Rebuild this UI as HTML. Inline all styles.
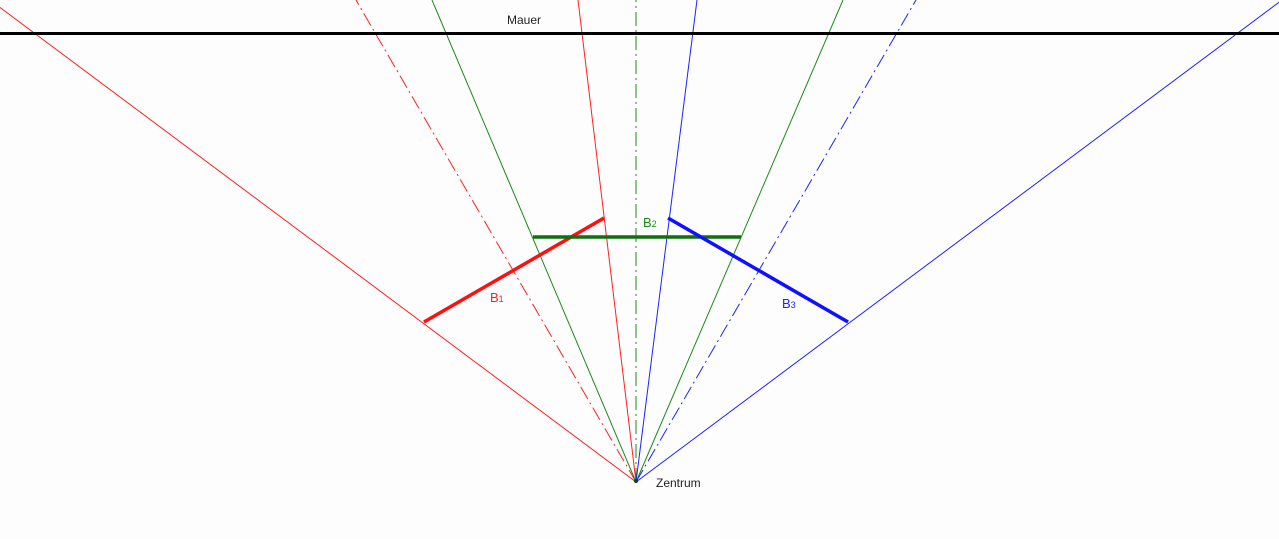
<!DOCTYPE html>
<html><head><meta charset="utf-8"><style>
html,body{margin:0;padding:0;background:#fdfdfd;}
svg{display:block;}
text{font-family:"Liberation Sans",sans-serif;}
</style></head><body>
<svg width="1279" height="539" viewBox="0 0 1279 539" xmlns="http://www.w3.org/2000/svg">
<rect width="1279" height="539" fill="#fdfdfd"/>
<g stroke-width="1" fill="none">
<line x1="636" y1="482" x2="-10" y2="0" stroke="#ff2020"/>
<line x1="636" y1="482" x2="356" y2="0" stroke="#ff2020" stroke-dasharray="14,4,2,4"/>
<line x1="636" y1="482" x2="432" y2="0" stroke="#1a8a1a"/>
<line x1="636" y1="482" x2="578" y2="0" stroke="#ff2020"/>
<line x1="636" y1="482" x2="636" y2="0" stroke="#1a8a1a" stroke-dasharray="14,4,2,4"/>
<line x1="636" y1="482" x2="697" y2="0" stroke="#2020ff"/>
<line x1="636" y1="482" x2="843" y2="0" stroke="#1a8a1a"/>
<line x1="636" y1="482" x2="916" y2="0" stroke="#2020ff" stroke-dasharray="14,4,2,4"/>
<line x1="636" y1="482" x2="1282" y2="0" stroke="#2020ff"/>
</g>
<line x1="0" y1="33.5" x2="1279" y2="33.5" stroke="#000" stroke-width="3"/>
<line x1="424" y1="322" x2="604" y2="218" stroke="#ff1010" stroke-width="3.5"/>
<line x1="533" y1="237" x2="741" y2="237" stroke="#107010" stroke-width="3.5"/>
<line x1="668" y1="218" x2="848" y2="322" stroke="#1010ff" stroke-width="3.5"/>
<circle cx="636" cy="481" r="2" fill="#104010"/>
<text x="507" y="24" font-size="12" fill="#222">Mauer</text>
<text x="643" y="227" font-size="13" fill="#1a8a1a">B<tspan font-size="9">2</tspan></text>
<text x="490" y="302" font-size="13" fill="#ff2020">B<tspan font-size="9">1</tspan></text>
<text x="782" y="308" font-size="13" fill="#2020ff">B<tspan font-size="9">3</tspan></text>
<text x="656" y="487" font-size="12" fill="#222">Zentrum</text>
</svg>
</body></html>
